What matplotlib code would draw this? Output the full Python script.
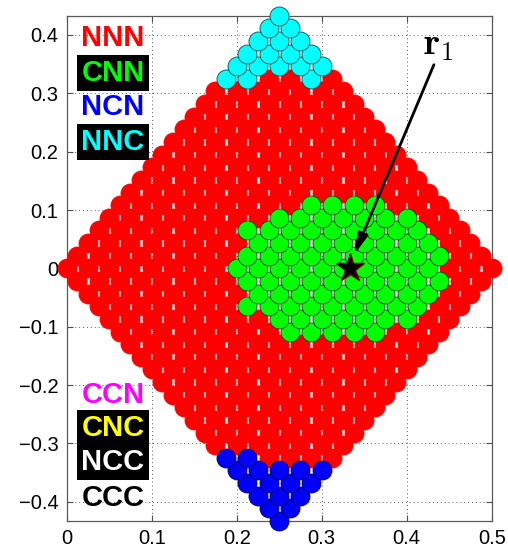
import matplotlib
matplotlib.use("Agg")
import matplotlib.pyplot as plt
import numpy as np

plt.rcParams["mathtext.fontset"] = "cm"

# Triangular lattice filling the rhombic cell: row k in -N..N, column index p
# (x = p * dx) running from |k| to 2N - |k| in steps of 2.
N = 20
dx = 0.5 / (2 * N)
dy = np.sqrt(3) / 4 / N

# CNN region (green): per row, first and last column index
green_rows = [5, 4, 3, 2, 1, 0, -1, -2, -3, -4, -5]
green_first = [23, 20, 17, 18, 17, 16, 17, 18, 17, 20, 21]
green_last = [29, 32, 33, 34, 35, 34, 35, 34, 33, 32, 29]

# NNC region (cyan) near the top vertex
cyan_rows = [20, 19, 18, 17, 16, 15]
cyan_cols = [[20], [19, 21], [18, 20, 22], [17, 19, 21, 23],
             [16, 18, 20, 22, 24], [15, 17, 23]]

# NCN region (blue) near the bottom vertex
blue_rows = [-20, -19, -18, -17, -16, -15]
blue_cols = [[20], [19, 21], [18, 20, 22], [17, 19, 21, 23],
             [16, 18, 20, 22, 24], [15, 17]]

r1 = (1 / 3, 0.0)

upper_labels = ["NNN", "CNN", "NCN", "NNC"]
upper_colors = ["#ff0000", "#00ff00", "#0000ff", "#00ffff"]
upper_boxed = [False, True, False, True]
lower_labels = ["CCN", "CNC", "NCC", "CCC"]
lower_colors = ["#ff00ff", "#ffff00", "#ffffff", "#000000"]
lower_boxed = [False, True, True, False]

xticks = [0, 0.1, 0.2, 0.3, 0.4, 0.5]
yticks = [-0.4, -0.3, -0.2, -0.1, 0, 0.1, 0.2, 0.3, 0.4]

# collect lattice sites and their class
special = {}
for k, a, b in zip(green_rows, green_first, green_last):
    for p in range(a, b + 1, 2):
        special[(k, p)] = "g"
for k, cols in zip(cyan_rows, cyan_cols):
    for p in cols:
        special[(k, p)] = "c"
for k, cols in zip(blue_rows, blue_cols):
    for p in cols:
        special[(k, p)] = "b"

pts = {"r": [], "g": [], "c": [], "b": []}
for k in range(-N, N + 1):
    for p in range(abs(k), 2 * N - abs(k) + 1, 2):
        pts[special.get((k, p), "r")].append((p * dx, k * dy))

W, H = 508, 551
fig = plt.figure(figsize=(W / 100, H / 100), dpi=100)
ax = fig.add_axes([66.7 / W, 1 - 521 / H, 425 / W, 505.3 / H])

ms = 13.7
face = {"r": "#ff0000", "g": "#00ff00", "c": "#00ffff", "b": "#0000ff"}
edge = {"r": "#ff0000", "g": "#1a3a1a", "c": "#104848", "b": "#000040"}
for key, z in (("r", 3), ("g", 4), ("c", 4), ("b", 4)):
    arr = np.array(pts[key])
    ax.plot(arr[:, 0], arr[:, 1], "o", ms=ms, mfc=face[key], mec=edge[key],
            mew=0.6, clip_on=False, zorder=z, linestyle="none")

ax.plot(*r1, marker="*", ms=21, mfc="k", mec="#7a0000", mew=1.0,
        zorder=6, clip_on=False)

ax.annotate("", xy=(0.338, 0.023), xytext=(0.432, 0.349),
            arrowprops=dict(arrowstyle="-|>,head_length=0.9,head_width=0.22",
                            color="k", lw=2, mutation_scale=14,
                            shrinkA=0, shrinkB=0),
            zorder=7)
ax.text(0.4195, 0.366, r"$\mathbf{r}_1$", fontsize=27, ha="left",
        va="baseline", zorder=7)

ax.set_xlim(0, 0.5)
ax.set_ylim(-np.sqrt(3) / 4, np.sqrt(3) / 4)
ax.set_xticks(xticks)
ax.set_yticks(yticks)
ax.set_xticklabels([f"{v:g}" for v in xticks])
ax.set_yticklabels([f"{v:g}".replace("-", "\u2212") for v in yticks])
ax.tick_params(direction="in", length=4, width=0.8, top=True, right=True,
               colors="0.3", labelcolor="k", labelsize=14.5, pad=6)
for lab in ax.get_xticklabels() + ax.get_yticklabels():
    lab.set_family("Liberation Sans")
for s in ax.spines.values():
    s.set_color("0.35")
    s.set_linewidth(0.9)
ax.set_axisbelow(True)
ax.grid(True, linestyle=(0, (1, 3)), color="0.35", lw=0.7)

# class labels down the left side
def px_to_y(py):
    return (268.3 - py) / 583.0

xc = (113 - 66.7) / 850.0
for labels, colors, boxed, ys in (
        (upper_labels, upper_colors, upper_boxed, [36, 70.5, 105, 140]),
        (lower_labels, lower_colors, lower_boxed, [392, 425.5, 459.5, 495])):
    for t, c, b, py in zip(labels, colors, boxed, ys):
        kw = dict(fontsize=21, fontweight="bold", family="Liberation Sans",
                  color=c, ha="center", va="baseline", zorder=8)
        if b:
            kw["bbox"] = dict(boxstyle="square,pad=0.14", fc="k", ec="none")
        ax.text(xc, px_to_y(py + 10.4), t, **kw)

fig.savefig("out.png", dpi=100)
